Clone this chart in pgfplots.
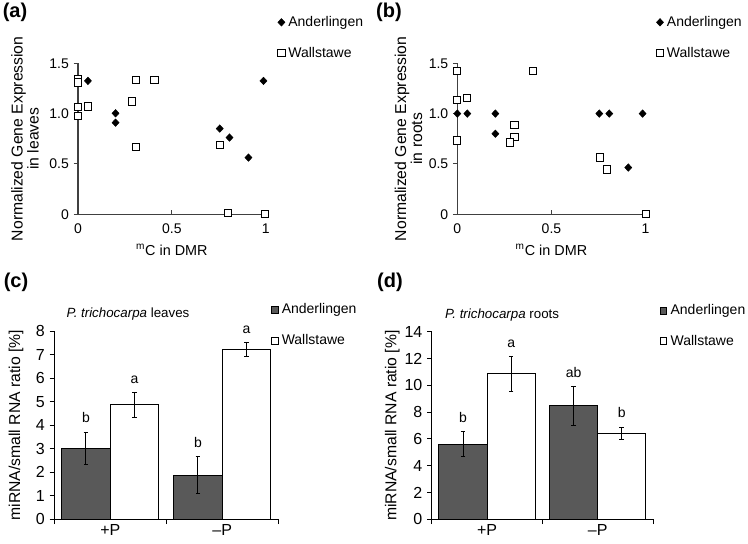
\documentclass[border=0pt]{standalone}
\usepackage{fontspec}
\setmainfont{Liberation Sans}
\usepackage{pgfplots}
\usepackage{pgfplotstable}
\pgfplotsset{compat=1.18}

\definecolor{axgray}{HTML}{404040}
\definecolor{bardark}{HTML}{595959}

\newcommand\lf{\fontsize{11.8}{14.5}\selectfont}

% scatter data: mC in DMR vs normalized expression
\pgfplotstableread{
x y
0.053 1.325
0.20 1.003
0.20 0.91
0.755 0.851
0.807 0.762
0.908 0.563
0.988 1.325
}\leafA
\pgfplotstableread{
x y
0 1.341
0 1.308
0 1.063
0 0.977
0.055 1.07
0.287 1.12
0.307 1.334
0.307 0.672
0.408 1.334
0.757 0.689
0.798 0.01
0.996 0
}\leafW
\pgfplotstableread{
x y
0 1.0
0.053 1.0
0.202 1.0
0.202 0.80
0.754 1.0
0.807 1.0
0.984 1.0
0.908 0.464
}\rootA
\pgfplotstableread{
x y
0 1.42
0 1.139
0 0.732
0.053 1.152
0.403 1.42
0.304 0.887
0.304 0.768
0.28 0.712
0.757 0.563
0.796 0.444
1.0 0
}\rootW

% bar data: x y err
\pgfplotstableread{
x y e
0 3.02 0.69
1 1.88 0.78
}\barLA
\pgfplotstableread{
x y e
0 4.86 0.53
1 7.21 0.30
}\barLW
\pgfplotstableread{
x y e
0 5.62 0.90
1 8.46 1.45
}\barRA
\pgfplotstableread{
x y e
0 10.85 1.30
1 6.42 0.46
}\barRW

\pgfplotsset{
  scat/.style={
    scale only axis, height=113.25pt,
    xmin=0, xmax=1, ymin=0, ymax=1.5,
    axis lines=left, axis line style={-, axgray, line width=0.8pt},
    clip=false,
    tick align=outside, major tick length=3.3pt,
    tick style={axgray, line width=0.8pt},
    xtick={0,0.5,1}, xticklabels={0,0.5,1},
    ytick={0,0.5,1,1.5}, yticklabels={0,0.5,1.0,1.5},
    x tick style={yshift=3.3pt},
    tick label style={font=\fontsize{10.5}{12}\selectfont},
    /pgf/number format/assume math mode=true,
    xlabel={\fontsize{10.8}{13}\selectfont\textsuperscript{m}C in DMR},
    xlabel style={at={(axis description cs:0.5,-0.236)}, anchor=center},
    ylabel style={anchor=center, align=center},
    legend style={draw=none, fill=none, anchor=north west, inner sep=0pt,
      row sep=12pt, font=\fontsize{10.5}{12}\selectfont,
      nodes={inner sep=1pt},
      /tikz/every odd column/.append style={column sep=1.5pt}},
    legend cell align=left,
  },
  scatleg/.style={legend image code/.code={\draw[##1] plot coordinates {(2.6pt,0pt)};}},
  Amark/.style={only marks, mark=diamond*, mark size=2.8pt, black,
    mark options={xscale=1.25}, scatleg},
  Wmark/.style={only marks, mark=square*, mark size=2.7pt,
    mark options={fill=white, draw=black, line width=0.75pt}, scatleg},
  bars/.style={
    scale only axis, ybar=0pt, bar width=0.435,
    xmin=-0.5, xmax=1.5, ymin=0, clip=false,
    axis lines=left, axis line style={-, black, line width=0.8pt},
    tick align=outside, major tick length=3.5pt,
    tick style={black, line width=0.8pt},
    xtick={-0.5,0.5,1.5}, xticklabels={},
    extra x ticks={0,1}, extra x tick labels={+P,–P},
    extra x tick style={major tick length=0pt},
    tick label style={font=\fontsize{12}{14}\selectfont},
    /pgf/number format/assume math mode=true,
    ylabel={\lf miRNA/small RNA ratio [\%]},
    ylabel style={anchor=center},
    legend style={draw=none, fill=none, anchor=north west, inner sep=0pt,
      row sep=12pt, font=\fontsize{10.5}{12}\selectfont,
      nodes={inner sep=1pt},
      /tikz/every odd column/.append style={column sep=1.5pt}},
    legend cell align=left,
  },
  barleg/.style={legend image code/.code={\draw[##1, line width=0.6pt] (0pt,-2.6pt) rectangle (5.2pt,2.6pt);}},
  errs/.style={error bars/.cd, y dir=both, y explicit,
    error bar style={black, line width=0.75pt},
    error mark options={black, rotate=90, mark size=1.75pt, line width=0.75pt}},
  Abar/.style={fill=bardark, draw=black, line width=0.75pt, barleg, errs},
  Wbar/.style={fill=white, draw=black, line width=0.75pt, barleg, errs},
}
\tikzset{
  lett/.style={anchor=base, yshift=7pt, font=\fontsize{10.5}{12}\selectfont},
  plab/.style={font=\fontsize{15}{18}\bfseries\selectfont},
}

\begin{document}
\begin{tikzpicture}
\path[use as bounding box] (0,0) rectangle (561pt,-407.25pt);

% (a)
\begin{axis}[scat, width=140.8pt, at={(58.5pt,-160.7pt)}, anchor=south west,
  ylabel={\lf Normalized Gene Expression\\\lf in leaves},
  ylabel style={at={(axis description cs:-0.282,0.5)}},
  legend style={at={(axis description cs:1.063,1.322)}}]
\addplot[Amark] table[x=x,y=y] {\leafA};
\addplot[Wmark] table[x=x,y=y] {\leafW};
\legend{Anderlingen,Wallstawe}
\end{axis}

% (b)
\begin{axis}[scat, width=141.2pt, at={(343pt,-160.7pt)}, anchor=south west,
  ylabel={\lf Normalized Gene Expression\\\lf in roots},
  ylabel style={at={(axis description cs:-0.26,0.5)}},
  legend style={at={(axis description cs:1.056,1.322)}}]
\addplot[Amark] table[x=x,y=y] {\rootA};
\addplot[Wmark] table[x=x,y=y] {\rootW};
\legend{Anderlingen,Wallstawe}
\end{axis}

% (c)
\begin{axis}[bars, width=168pt, height=141.2pt, at={(40.7pt,-389.5pt)}, anchor=south west,
  ymax=8, ytick={0,1,...,8},
  ylabel style={at={(axis description cs:-0.171,0.5)}},
  legend style={at={(axis description cs:0.965,1.154)}}]
\addplot[Abar] table[x=x,y=y,y error=e] {\barLA};
\addplot[Wbar] table[x=x,y=y,y error=e] {\barLW};
\legend{Anderlingen,Wallstawe}
\node[lett] at (axis cs:-0.2175,3.71) {b};
\node[lett] at (axis cs:0.2175,5.39) {a};
\node[lett] at (axis cs:0.7825,2.66) {b};
\node[lett] at (axis cs:1.2175,7.51) {a};
\node[font=\fontsize{10}{12}\selectfont] at (axis description cs:0.329,1.089) {\textit{P. trichocarpa} leaves};
\end{axis}

% (d)
\begin{axis}[bars, width=166pt, height=140.7pt, at={(323.8pt,-389.5pt)}, anchor=south west,
  ymax=14, ytick={0,2,...,14},
  ylabel style={at={(axis description cs:-0.178,0.5)}},
  legend style={at={(axis description cs:1.028,1.154)}}]
\addplot[Abar] table[x=x,y=y,y error=e] {\barRA};
\addplot[Wbar] table[x=x,y=y,y error=e] {\barRW};
\legend{Anderlingen,Wallstawe}
\node[lett] at (axis cs:-0.2175,6.52) {b};
\node[lett] at (axis cs:0.2175,12.15) {a};
\node[lett] at (axis cs:0.7825,9.91) {ab};
\node[lett] at (axis cs:1.2175,6.88) {b};
\node[font=\fontsize{10}{12}\selectfont] at (axis description cs:0.318,1.09) {\textit{P. trichocarpa} roots};
\end{axis}

% panel labels
\node[plab] at (11.25pt,-9.4pt) {(a)};
\node[plab] at (291.75pt,-9.4pt) {(b)};
\node[plab] at (12pt,-211.5pt) {(c)};
\node[plab] at (292.5pt,-211.5pt) {(d)};
\end{tikzpicture}
\end{document}
